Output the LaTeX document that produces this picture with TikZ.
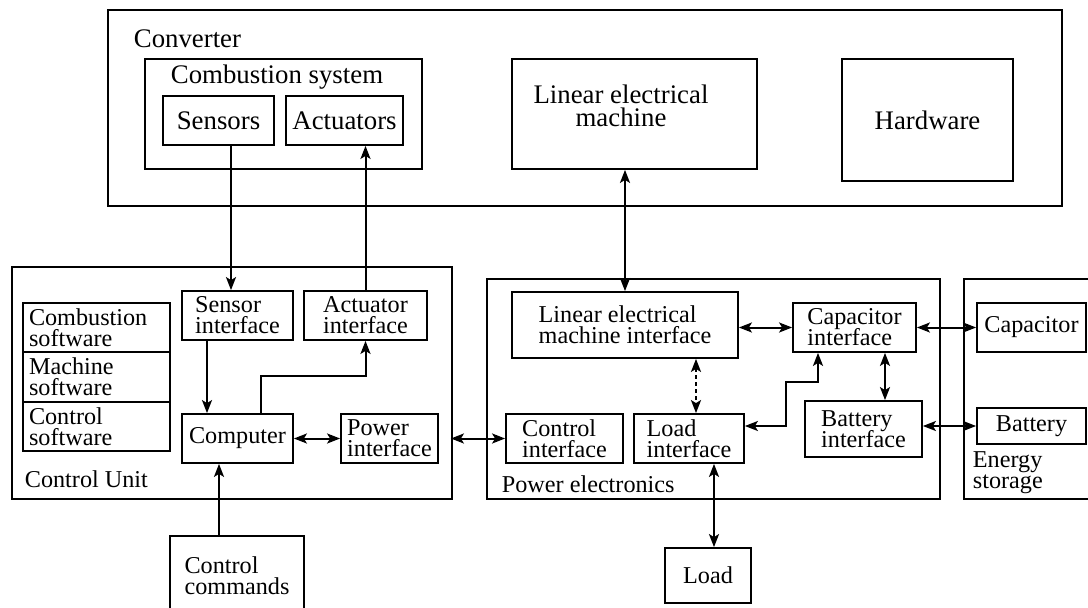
\documentclass[tikz,border=0pt]{standalone}
\usepackage{fontspec}
\setmainfont{Liberation Serif}
\usetikzlibrary{arrows.meta}
\lineskiplimit=-100pt
\tikzset{every node/.style={align=center}, >={Stealth[length=13pt,width=10pt,inset=3pt]},
  big/.style={font=\fontsize{26.8}{22.5}\selectfont},
  small/.style={font=\fontsize{24.2}{21}\selectfont},
  blk/.style={draw, line width=1.8pt, inner sep=0pt, align=left},
  sw/.style={blk, minimum width=147pt, minimum height=49.5pt, text width=135pt},
  lbl/.style={inner sep=0pt, anchor=base west},
  link/.style={line width=2pt}}

\begin{document}
\begin{tikzpicture}[x=1pt, y=-1pt, line width=1.8pt, small]
\useasboundingbox (0,0) rectangle (1088,608);
% converter
\node [blk, minimum width=954pt, minimum height=196pt] (conv) at (585,108) {};
\node [lbl, big] (convl) at (133,47) {Converter};
\node [blk, minimum width=277pt, minimum height=110pt] (comb) at (283.5,114) {};
\node [lbl, big] (combl) at (170,83) {Combustion system};
\node [blk, big, minimum width=111pt, minimum height=49pt] (sens) at (218.5,120.5) {Sensors};
\node [blk, big, minimum width=117pt, minimum height=49pt] (act) at (344.5,120.5) {Actuators};
\node [blk, minimum width=245pt, minimum height=110pt] (lem) at (634.5,114) {};
\node [big, inner sep=0pt] (leml) at (621,106) {Linear electrical\\machine};
\node [blk, big, minimum width=171pt, minimum height=122pt] (hw) at (927.5,120) {Hardware};
% control unit
\node [blk, minimum width=440pt, minimum height=232pt] (cu) at (232,383) {};
\node [lbl] (cul) at (24,487) {Control Unit};
\node [sw] (sw1) at (96.5,327.5) {Combustion\\software};
\node [sw] (sw2) at (96.5,377) {Machine\\software};
\node [sw] (sw3) at (96.5,426.5) {Control\\software};
\node [blk, minimum width=111pt, minimum height=49pt] (sensi) at (237.5,315.5) {Sensor\\interface};
\node [blk, minimum width=123pt, minimum height=49pt] (acti) at (365.5,315.5) {Actuator\\interface};
\node [blk, minimum width=111pt, minimum height=49pt] (comp) at (237.5,438.5) {Computer};
\node [blk, minimum width=97pt, minimum height=49pt] (pwri) at (389.5,438.5) {Power\\interface};
\node [blk, minimum width=134pt, minimum height=80pt] (cmd) at (237,576) {Control\\commands};
% power electronics
\node [blk, minimum width=453pt, minimum height=220pt] (pe) at (713.5,389) {};
\node [lbl] (pel) at (501,492) {Power electronics};
\node [blk, minimum width=226pt, minimum height=66pt] (lemi) at (625,325) {Linear electrical\\machine interface};
\node [blk, minimum width=117pt, minimum height=49pt] (ctli) at (564.5,438.5) {Control\\interface};
\node [blk, minimum width=110pt, minimum height=49pt] (loadi) at (689,438.5) {Load\\interface};
\node [blk, minimum width=123pt, minimum height=49pt] (capi) at (854.5,327.5) {Capacitor\\interface};
\node [blk, minimum width=117pt, minimum height=56pt] (bati) at (863.5,429) {Battery\\interface};
\node [blk, minimum width=86pt, minimum height=55pt] (load) at (708,575.5) {Load};
% energy storage
\node [blk, minimum width=146pt, minimum height=220pt] (es) at (1037,389) {};
\node [inner sep=0pt, anchor=west, align=left] (esl) at (972,473) {Energy\\storage};
\node [blk, minimum width=109pt, minimum height=49pt] (cap) at (1031.5,327.5) {Capacitor};
\node [blk, minimum width=109pt, minimum height=36pt] (bat) at (1031.5,426) {Battery};

\draw [link, ->] ([xshift=12.5pt]sens.south) -- ([xshift=-6.5pt]sensi.north);
\draw [link, ->] (acti.north) -- ([xshift=21pt]act.south);
\draw [link, ->] ([xshift=-30.5pt]sensi.south) -- ([xshift=-30.5pt]comp.north);
\draw [link, ->] ([xshift=23.5pt]comp.north) -- ++(0,-37) -| (acti.south);
\draw [link, <->] (comp) -- (pwri);
\draw [link, <->, shorten <=12pt] (pwri.east) -- (ctli.west);
\draw [link, ->] ([xshift=-18pt]cmd.north) -- ([xshift=-18.5pt]comp.south);
\draw [link, <->] (lem.south -| lemi) -- (lemi.north);
\draw [link, <->] (lemi.east |- capi) -- (capi.west);
\draw [link, <->] (capi) -- (cap);
\draw [link, <->] ([xshift=30.5pt]capi.south) -- ([xshift=21.5pt]bati.north);
\draw [link, <->] (bati.east |- bat) -- (bat.west);
\draw [link, <->, dash pattern=on 4pt off 3pt] ([xshift=71pt]lemi.south) -- ([xshift=7pt]loadi.north);
\draw [link, <->] ([yshift=12.5pt]loadi.east) -| ++(41,-44) -| ([xshift=-36.5pt]capi.south);
\draw [link, <->] ([xshift=25pt]loadi.south) -- ([xshift=6pt]load.north);
\end{tikzpicture}
\end{document}
